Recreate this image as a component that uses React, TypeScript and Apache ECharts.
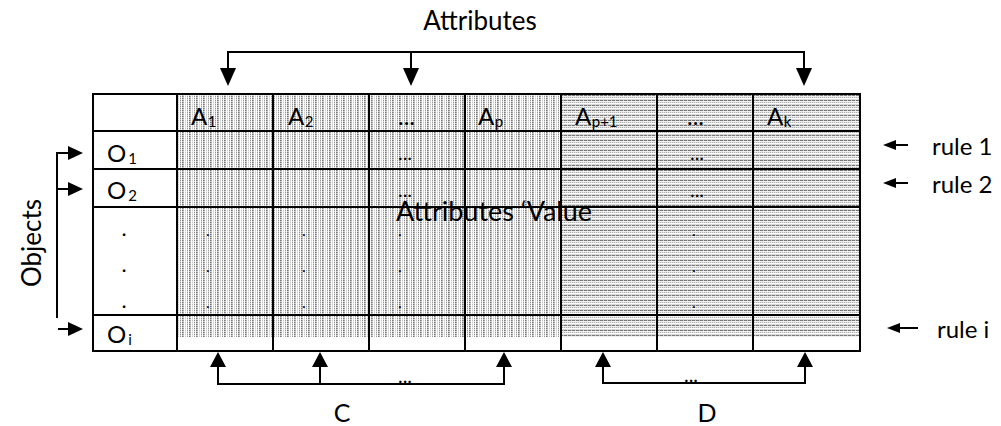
import React, { useEffect, useRef } from "react";
import * as echarts from "echarts";

// ---- content ----
const topTitle = "Attributes";
const sideTitle = "Objects";
const cellText = "Attributes \u2018Value";
const headerLabels = [
  { main: "A", sub: "1" },
  { main: "A", sub: "2" },
  { main: "...", sub: "" },
  { main: "A", sub: "p" },
  { main: "A", sub: "p+1" },
  { main: "...", sub: "" },
  { main: "A", sub: "k" },
];
const rowLabels = [
  { main: "O", sub: "1" },
  { main: "O", sub: "2" },
  { main: "O", sub: "i" },
];
const ruleLabels = ["rule 1", "rule 2", "rule i"];
const groupLabels = ["C", "D"];

// ---- layout ----
const FONT = "Lato";
const colX = [93, 177, 273, 369, 465, 561, 657, 753, 860];
const rowY = [94, 131, 169, 207, 315, 351];
const patternBottom = 337;
const splitX = 561;
const headerOffsets = [14, 15, 29, 13, 14, 30, 14];

function measure(text: string, size: number) {
  const ctx = document.createElement("canvas").getContext("2d")!;
  ctx.font = `${size}px ${FONT}`;
  return ctx.measureText(text).width;
}

function makeTile(w: number, h: number, px: (x: number, y: number) => number) {
  const c = document.createElement("canvas");
  c.width = w;
  c.height = h;
  const ctx = c.getContext("2d")!;
  const img = ctx.createImageData(w, h);
  for (let y = 0; y < h; y++)
    for (let x = 0; x < w; x++) {
      const v = px(x, y);
      const i = (y * w + x) * 4;
      img.data[i] = v;
      img.data[i + 1] = v;
      img.data[i + 2] = v;
      img.data[i + 3] = 255;
    }
  ctx.putImageData(img, 0, 0);
  return c;
}

function txt(text: string, x: number, baseline: number, size: number, align = "left", extra: any = {}) {
  return {
    type: "text",
    x,
    y: baseline - 0.32 * size,
    silent: true,
    z: 10,
    ...extra,
    style: {
      text,
      fontSize: size,
      fontFamily: FONT,
      fill: "#000",
      align,
      textAlign: align,
      verticalAlign: "middle",
      textVerticalAlign: "middle",
    },
  };
}

function subLabel(main: string, sub: string, x: number, baseline: number, size: number, subSize: number, gap: number) {
  const els: any[] = [txt(main, x, baseline, size)];
  if (sub) {
    const w = measure(main, size);
    els.push(txt(sub, x + w + gap, baseline + 3, subSize));
  }
  return els;
}

function line(x1: number, y1: number, x2: number, y2: number, w = 2) {
  return { type: "line", z: 5, silent: true, shape: { x1, y1, x2, y2 }, style: { stroke: "#000", lineWidth: w } };
}
function tri(points: number[][]) {
  return { type: "polygon", z: 6, silent: true, shape: { points }, style: { fill: "#000" } };
}
function downArrowHead(x: number, tipY: number) {
  return tri([[x - 8, tipY - 18], [x + 8, tipY - 18], [x, tipY]]);
}
function upArrowHead(x: number, tipY: number) {
  return tri([[x - 8, tipY + 15], [x + 8, tipY + 15], [x, tipY]]);
}
function rightArrowHead(tipX: number, y: number) {
  return tri([[tipX - 15, y - 7], [tipX - 15, y + 7], [tipX, y]]);
}
function leftArrowHead(tipX: number, y: number) {
  return tri([[tipX + 13, y - 5], [tipX + 13, y + 5], [tipX, y]]);
}

export default function App() {
  const ref = useRef<HTMLDivElement>(null);
  useEffect(() => {
    if (!ref.current) return;
    const chart = echarts.init(ref.current, null, { renderer: "svg" });

    const vTile = makeTile(7, 4, (x, y) => {
      const cols = [
        [120, 200, 120, 200],
        [160, 215, 160, 215],
        [255, 255, 255, 255],
        [205, 225, 205, 225],
        [255, 255, 255, 255],
        [150, 215, 150, 215],
        [255, 255, 255, 255],
      ];
      return cols[x][y];
    });
    const hTile = makeTile(8, 5, (x, y) => {
      const rows = [
        [120, 120, 120, 190, 120, 120, 120, 210],
        [240, 240, 240, 240, 240, 240, 240, 240],
        [175, 225, 175, 225, 175, 225, 175, 225],
        [255, 255, 255, 255, 255, 255, 255, 255],
        [215, 215, 215, 215, 215, 215, 215, 215],
      ];
      return rows[y][x];
    });

    const els: any[] = [];
    // background patterns
    els.push({
      type: "rect", z: 1, silent: true,
      shape: { x: colX[1], y: rowY[0], width: splitX - colX[1], height: patternBottom - rowY[0] },
      style: { fill: { image: vTile, repeat: "repeat", imageWidth: 7, imageHeight: 4 } },
    });
    els.push({
      type: "rect", z: 1, silent: true,
      shape: { x: splitX, y: rowY[0], width: colX[colX.length - 1] - splitX, height: patternBottom - rowY[0] },
      style: { fill: { image: hTile, repeat: "repeat", imageWidth: 8, imageHeight: 5 } },
    });
    // grid lines
    rowY.forEach((y) => els.push(line(colX[0] - 1, y, colX[colX.length - 1] + 1, y)));
    colX.forEach((x) => els.push(line(x, rowY[0], x, rowY[rowY.length - 1])));

    // header labels
    headerLabels.forEach((h, i) => {
      const x = colX[i + 1] + headerOffsets[i];
      els.push(...subLabel(h.main, h.sub, x, 123, 24, 15, 0.5));
    });
    // row labels
    const rowBase = [160, 197, 341];
    rowLabels.forEach((r, i) => {
      els.push(...subLabel(r.main, r.sub, 107, rowBase[i], 24, 15, 2));
    });
    // ellipsis in O1 / O2 rows
    [158, 195].forEach((b) => {
      els.push(txt("...", 405, b, 20, "center"));
      els.push(txt("...", 697, b, 20, "center"));
    });
    // vertical dots in the middle row
    [232, 268, 304].forEach((b) => {
      els.push(txt(".", 124, b + 3, 22, "center"));
      [208, 304, 400, 694].forEach((x) => els.push(txt(".", x, b + 3, 16, "center")));
    });
    // middle overlay text
    els.push(txt(cellText, 396, 219, 27));

    // top bracket
    els.push(txt(topTitle, 480, 28, 26, "center"));
    els.push(line(228, 52, 804, 52));
    [228, 411, 804].forEach((x) => {
      els.push(line(x, 51, x, 70));
      els.push(downArrowHead(x, 86));
    });

    // left bracket
    const side: any = txt(sideTitle, 31, 243, 26, "center");
    side.x = 31;
    side.y = 243;
    side.rotation = Math.PI / 2;
    els.push(side);
    els.push(line(57, 152, 57, 318));
    [153, 189].forEach((y) => {
      els.push(line(56, y, 70, y));
      els.push(rightArrowHead(83, y));
    });
    els.push(line(58, 329, 70, 329));
    els.push(rightArrowHead(83, 329));

    // rule arrows and labels
    const ruleY = [145, 183, 328];
    const ruleTip = [883, 883, 887];
    const ruleTail = [908, 908, 918];
    const ruleTextX = [932, 932, 937];
    ruleLabels.forEach((r, i) => {
      els.push(line(ruleTip[i] + 10, ruleY[i], ruleTail[i], ruleY[i]));
      els.push(leftArrowHead(ruleTip[i], ruleY[i]));
      els.push(txt(r, ruleTextX[i], ruleY[i] + 8, 24));
    });

    // bottom brackets
    const cArrows = [218, 320, 504];
    const dArrows = [603, 805];
    [cArrows, dArrows].forEach((arr, gi) => {
      const yLine = gi === 0 ? 384 : 383;
      arr.forEach((x) => {
        els.push(upArrowHead(x, 352));
        els.push(line(x, 366, x, yLine + 1));
      });
      els.push(line(arr[0], yLine, arr[arr.length - 1], yLine));
    });
    els.push(txt("...", 405, 381, 20, "center"));
    els.push(txt("...", 691, 380, 20, "center"));
    els.push(txt(groupLabels[0], 342, 420, 25, "center"));
    els.push(txt(groupLabels[1], 707, 420, 25, "center"));

    chart.setOption({
      animation: false,
      backgroundColor: "#fff",
      graphic: { elements: els },
    });
    return () => chart.dispose();
  }, []);
  return <div ref={ref} style={{ width: 1001, height: 426, position: "absolute", left: 0, top: 0 }} />;
}
